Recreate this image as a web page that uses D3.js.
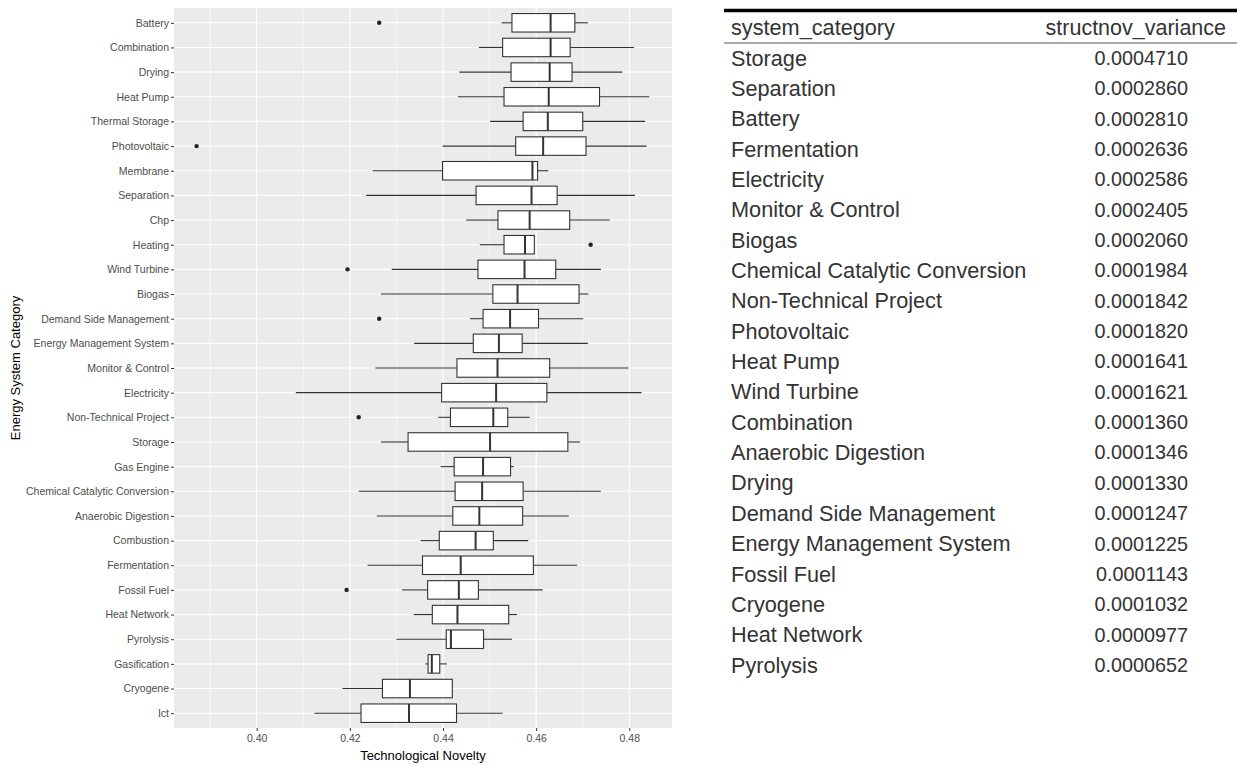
<!DOCTYPE html>
<html>
<head>
<meta charset="utf-8">
<script src="https://cdn.jsdelivr.net/npm/d3@7"></script>
<style>
  body { margin: 0; background: #fff; }
  svg { display: block; font-family: "Liberation Sans", Arial, sans-serif; }
</style>
</head>
<body>
<div id="root"></div>
<script>
// categories, top to bottom as drawn
const categories = ["Battery", "Combination", "Drying", "Heat Pump", "Thermal Storage", "Photovoltaic",
  "Membrane", "Separation", "Chp", "Heating", "Wind Turbine", "Biogas", "Demand Side Management",
  "Energy Management System", "Monitor & Control", "Electricity", "Non-Technical Project", "Storage",
  "Gas Engine", "Chemical Catalytic Conversion", "Anaerobic Digestion", "Combustion", "Fermentation",
  "Fossil Fuel", "Heat Network", "Pyrolysis", "Gasification", "Cryogene", "Ict"];

// box stats (lower whisker, q1, median, q3, upper whisker)
const whiskerLow = [0.4526, 0.4477, 0.4435, 0.4432, 0.4501, 0.4399, 0.4249, 0.4235, 0.4450, 0.4479,
  0.4290, 0.4267, 0.4458, 0.4338, 0.4255, 0.4084, 0.4390, 0.4267, 0.4395, 0.4219, 0.4258, 0.4352,
  0.4238, 0.4312, 0.4337, 0.4300, 0.4362, 0.4184, 0.4124];
const q1 = [0.4548, 0.4528, 0.4546, 0.4531, 0.4572, 0.4556, 0.4399, 0.4471, 0.4518, 0.4531,
  0.4475, 0.4507, 0.4486, 0.4465, 0.4430, 0.4397, 0.4416, 0.4325, 0.4424, 0.4426, 0.4421, 0.4392,
  0.4356, 0.4367, 0.4377, 0.4407, 0.4368, 0.4270, 0.4224];
const medians = [0.4631, 0.4631, 0.4629, 0.4627, 0.4625, 0.4615, 0.4592, 0.4590, 0.4586, 0.4576,
  0.4575, 0.4560, 0.4544, 0.4520, 0.4517, 0.4514, 0.4508, 0.4501, 0.4486, 0.4484, 0.4478, 0.4470,
  0.4438, 0.4434, 0.4431, 0.4417, 0.4376, 0.4329, 0.4327];
const q3 = [0.4683, 0.4673, 0.4677, 0.4736, 0.4700, 0.4707, 0.4603, 0.4645, 0.4672, 0.4596,
  0.4642, 0.4692, 0.4605, 0.4570, 0.4629, 0.4623, 0.4539, 0.4668, 0.4545, 0.4572, 0.4571, 0.4508,
  0.4594, 0.4476, 0.4541, 0.4487, 0.4393, 0.4420, 0.4429];
const whiskerHigh = [0.4711, 0.4810, 0.4785, 0.4843, 0.4834, 0.4837, 0.4626, 0.4812, 0.4758, 0.4596,
  0.4739, 0.4712, 0.4701, 0.4711, 0.4798, 0.4826, 0.4586, 0.4694, 0.4552, 0.4739, 0.4670, 0.4583,
  0.4688, 0.4614, 0.4559, 0.4548, 0.4408, 0.4420, 0.4528];

const outlierCats = ["Battery", "Photovoltaic", "Heating", "Wind Turbine", "Demand Side Management",
  "Non-Technical Project", "Fossil Fuel"];
const outlierVals = [0.4263, 0.3871, 0.4717, 0.4195, 0.4263, 0.4219, 0.4193];

const xTicks = [0.40, 0.42, 0.44, 0.46, 0.48];
const xMinorTicks = [0.39, 0.41, 0.43, 0.45, 0.47];

// variance table
const tableCategories = ["Storage", "Separation", "Battery", "Fermentation", "Electricity",
  "Monitor & Control", "Biogas", "Chemical Catalytic Conversion", "Non-Technical Project",
  "Photovoltaic", "Heat Pump", "Wind Turbine", "Combination", "Anaerobic Digestion", "Drying",
  "Demand Side Management", "Energy Management System", "Fossil Fuel", "Cryogene", "Heat Network",
  "Pyrolysis"];
const tableVariance = ["0.0004710", "0.0002860", "0.0002810", "0.0002636", "0.0002586", "0.0002405",
  "0.0002060", "0.0001984", "0.0001842", "0.0001820", "0.0001641", "0.0001621", "0.0001360",
  "0.0001346", "0.0001330", "0.0001247", "0.0001225", "0.0001143", "0.0001032", "0.0000977",
  "0.0000652"];

const W = 1237, H = 765;
const panel = { left: 174, right: 672, top: 8, bottom: 728 };

const svg = d3.select("#root").append("svg")
  .attr("width", W)
  .attr("height", H);

// ---- boxplot ----
const x = d3.scaleLinear()
  .domain([0.38225, 0.48916])
  .range([panel.left, panel.right]);

const y = d3.scalePoint()
  .domain(categories)
  .range([panel.top, panel.bottom])
  .padding(0.6);

const boxH = y.step() * 0.75;

svg.append("rect")
  .attr("x", panel.left).attr("y", panel.top)
  .attr("width", panel.right - panel.left).attr("height", panel.bottom - panel.top)
  .attr("fill", "#ebebeb");

const grid = svg.append("g");
grid.selectAll(".minor").data(xMinorTicks).enter().append("line")
  .attr("x1", d => x(d)).attr("x2", d => x(d))
  .attr("y1", panel.top).attr("y2", panel.bottom)
  .attr("stroke", "#fff").attr("stroke-width", 0.6);
grid.selectAll(".major").data(xTicks).enter().append("line")
  .attr("x1", d => x(d)).attr("x2", d => x(d))
  .attr("y1", panel.top).attr("y2", panel.bottom)
  .attr("stroke", "#fff").attr("stroke-width", 1.1);
grid.selectAll(".hmajor").data(categories).enter().append("line")
  .attr("x1", panel.left).attr("x2", panel.right)
  .attr("y1", d => y(d)).attr("y2", d => y(d))
  .attr("stroke", "#fff").attr("stroke-width", 1.1);

const boxes = svg.selectAll(".box")
  .data(categories.map((c, i) => ({
    cat: c, lo: whiskerLow[i], q1: q1[i], med: medians[i], q3: q3[i], hi: whiskerHigh[i]
  })))
  .enter().append("g")
    .attr("class", "box")
    .attr("transform", d => "translate(0," + y(d.cat) + ")");

boxes.append("line")
  .attr("x1", d => x(d.lo)).attr("x2", d => x(d.q1))
  .attr("stroke", "#333").attr("stroke-width", 1.1);
boxes.append("line")
  .attr("x1", d => x(d.q3)).attr("x2", d => x(d.hi))
  .attr("stroke", "#333").attr("stroke-width", 1.1);
boxes.append("rect")
  .attr("x", d => x(d.q1)).attr("y", -boxH / 2)
  .attr("width", d => x(d.q3) - x(d.q1)).attr("height", boxH)
  .attr("fill", "#fff").attr("stroke", "#333").attr("stroke-width", 1.1);
boxes.append("line")
  .attr("x1", d => x(d.med)).attr("x2", d => x(d.med))
  .attr("y1", -boxH / 2).attr("y2", boxH / 2)
  .attr("stroke", "#333").attr("stroke-width", 2);

svg.selectAll(".outlier")
  .data(outlierCats.map((c, i) => ({ cat: c, v: outlierVals[i] })))
  .enter().append("circle")
    .attr("cx", d => x(d.v)).attr("cy", d => y(d.cat))
    .attr("r", 2.2).attr("fill", "#222");

// axes
const xAxis = svg.append("g")
  .attr("transform", "translate(0," + panel.bottom + ")")
  .call(d3.axisBottom(x).tickValues(xTicks).tickFormat(d3.format(".2f")).tickSize(3).tickPadding(4));
const yAxis = svg.append("g")
  .attr("transform", "translate(" + panel.left + ",0)")
  .call(d3.axisLeft(y).tickSize(3).tickPadding(2));

[xAxis, yAxis].forEach(a => {
  a.select(".domain").remove();
  a.selectAll(".tick line").attr("stroke", "#333");
  a.selectAll(".tick text")
    .attr("fill", "#4d4d4d")
    .style("font-size", "10.5px")
    .style("font-family", "'Liberation Sans', Arial, sans-serif");
});

svg.append("text")
  .attr("x", (panel.left + panel.right) / 2).attr("y", 760)
  .attr("text-anchor", "middle")
  .style("font-size", "13px")
  .attr("fill", "#000")
  .text("Technological Novelty");

svg.append("text")
  .attr("transform", "translate(20," + (panel.top + panel.bottom) / 2 + ") rotate(-90)")
  .attr("text-anchor", "middle")
  .style("font-size", "13px")
  .attr("fill", "#000")
  .text("Energy System Category");

// ---- variance table ----
const tbl = svg.append("g");
const rowY = d3.scalePoint()
  .domain(tableCategories)
  .range([58, 665]);

tbl.append("line")
  .attr("x1", 724).attr("x2", W)
  .attr("y1", 10.5).attr("y2", 10.5)
  .attr("stroke", "#000").attr("stroke-width", 3.5);
tbl.append("line")
  .attr("x1", 724).attr("x2", W)
  .attr("y1", 43).attr("y2", 43)
  .attr("stroke", "#555").attr("stroke-width", 1);

tbl.append("text")
  .attr("x", 731).attr("y", 27).attr("dy", "0.35em")
  .style("font-size", "21.7px").attr("fill", "#333")
  .text("system_category");
tbl.append("text")
  .attr("x", 1226).attr("y", 27).attr("dy", "0.35em")
  .attr("text-anchor", "end")
  .style("font-size", "21.5px").attr("fill", "#333")
  .text("structnov_variance");

tbl.selectAll(".rowcat").data(tableCategories).enter().append("text")
  .attr("x", 731).attr("y", d => rowY(d)).attr("dy", "0.35em")
  .style("font-size", "21.7px").attr("fill", "#333")
  .text(d => d);
tbl.selectAll(".rowval").data(tableVariance).enter().append("text")
  .attr("x", 1188).attr("y", (d, i) => rowY(tableCategories[i])).attr("dy", "0.35em")
  .attr("text-anchor", "end")
  .style("font-size", "19.8px").attr("fill", "#333")
  .text(d => d);
</script>
</body>
</html>
